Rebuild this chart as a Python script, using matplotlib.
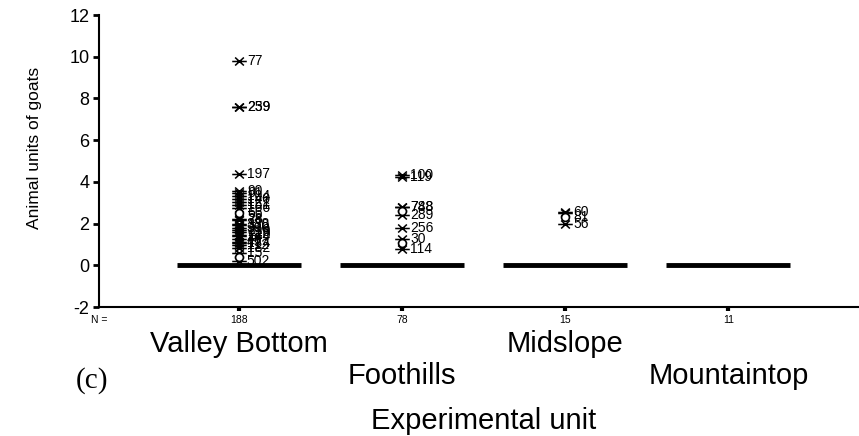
import matplotlib
matplotlib.use("Agg")
import matplotlib.pyplot as plt
import matplotlib.transforms as mtransforms
from matplotlib.path import Path

plt.rcParams['font.family'] = ['Liberation Sans', 'DejaVu Sans']

# ---- data ----
categories = ['Valley Bottom', 'Foothills', 'Midslope', 'Mountaintop']
n_counts = [188, 78, 15, 11]
medians = [0, 0, 0, 0]

# extremes (asterisks): category index, value, case label
ext_cat = [0, 0, 0, 0, 0, 0, 0, 0, 0, 0, 0, 0, 0, 0, 0, 0, 0, 0, 0, 0, 0, 0, 0, 0, 0, 0, 0,
           1, 1, 1, 1, 1, 1, 1, 1,
           2, 2, 2]
ext_val = [9.8, 7.6, 7.6, 4.4, 3.55, 3.45, 3.3, 3.2, 3.05, 2.9, 2.75, 2.2, 2.15, 2.0, 1.95, 1.8,
           1.7, 1.6, 1.45, 1.4, 1.25, 1.1, 1.05, 0.95, 0.85, 0.6, 0.2,
           4.35, 4.25, 2.8, 2.78, 2.4, 1.8, 1.25, 0.78,
           2.55, 2.5, 2.0]
ext_lab = ['77', '239', '259', '197', '90', '61', '104', '140', '121', '151', '166', '28', '78',
           '338', '330', '300', '210', '229', '220', '134', '48', '45', '174', '112', '182', '15', '502',
           '100', '119', '748', '788', '289', '256', '30', '114',
           '60', '', '56']

# outliers (circles)
out_cat = [0, 0, 1, 1, 2]
out_val = [2.5, 0.42, 2.6, 1.05, 2.3]
out_lab = ['66', '', '', '', '81']

box_half_width = 0.38

# SPSS-style extreme marker: an X crossed by a horizontal bar
star_path = Path([(-1.0, 0.0), (1.0, 0.0),
                  (-0.6, -0.55), (0.6, 0.55),
                  (-0.6, 0.55), (0.6, -0.55)],
                 [Path.MOVETO, Path.LINETO, Path.MOVETO, Path.LINETO, Path.MOVETO, Path.LINETO])

fig = plt.figure(figsize=(8.59, 4.36), dpi=100)
ax = fig.add_axes([99 / 859, 1 - 307 / 436, 1 - 99 / 859, (307 - 15) / 436])

positions = [i + 1 for i in range(len(categories))]

# collapsed boxes -> thick median lines
ax.hlines(medians, [p - box_half_width for p in positions],
          [p + box_half_width for p in positions], colors='black', lw=3.5, zorder=3)

ex_x = [positions[c] for c in ext_cat]
ax.scatter(ex_x, ext_val, marker=star_path, s=110, c='black', linewidths=1.1, zorder=4)
for x, v, l in zip(ex_x, ext_val, ext_lab):
    if l:
        ax.text(x + 0.05, v, l, fontsize=10, va='center', ha='left', zorder=5)

ou_x = [positions[c] for c in out_cat]
ax.scatter(ou_x, out_val, marker='o', s=32, facecolors='white', edgecolors='black',
           linewidths=1.2, zorder=4)
for x, v, l in zip(ou_x, out_val, out_lab):
    if l:
        ax.text(x + 0.05, v, l, fontsize=10, va='center', ha='left', zorder=5)

ax.set_xlim(0.144, 4.80)
ax.set_ylim(-2, 12)
ax.set_yticks(range(-2, 13, 2))
ax.set_yticklabels([str(v) for v in range(-2, 13, 2)], fontsize=13)
ax.set_xticks(positions)
ax.set_xticklabels([str(n) for n in n_counts], fontsize=7.5)
ax.tick_params(axis='y', direction='out', length=4, width=2, pad=3)
ax.tick_params(axis='x', direction='out', length=3, width=3, pad=3)

for s in ['top', 'right']:
    ax.spines[s].set_visible(False)
for s in ['left', 'bottom']:
    ax.spines[s].set_linewidth(1.5)

ax.text(0.0, -0.045, 'N =', transform=ax.transAxes, fontsize=7.5, ha='center', va='center')

trans = mtransforms.blended_transform_factory(ax.transData, ax.transAxes)
row_y = [-0.125, -0.235]
for i, (p, name) in enumerate(zip(positions, categories)):
    ax.text(p, row_y[i % 2], name, transform=trans, fontsize=21, ha='center', va='center')

fig.text(92 / 859, 1 - 381 / 436, '(c)', fontsize=21, ha='center', va='center',
         family=['Liberation Serif', 'DejaVu Serif'])
fig.text(484 / 859, 1 - 421 / 436, 'Experimental unit', fontsize=21, ha='center', va='center')
fig.text(35 / 859, 1 - 148 / 436, 'Animal units of goats', fontsize=12.5, rotation=90,
         ha='center', va='center')

fig.savefig('out.png', dpi=100)
